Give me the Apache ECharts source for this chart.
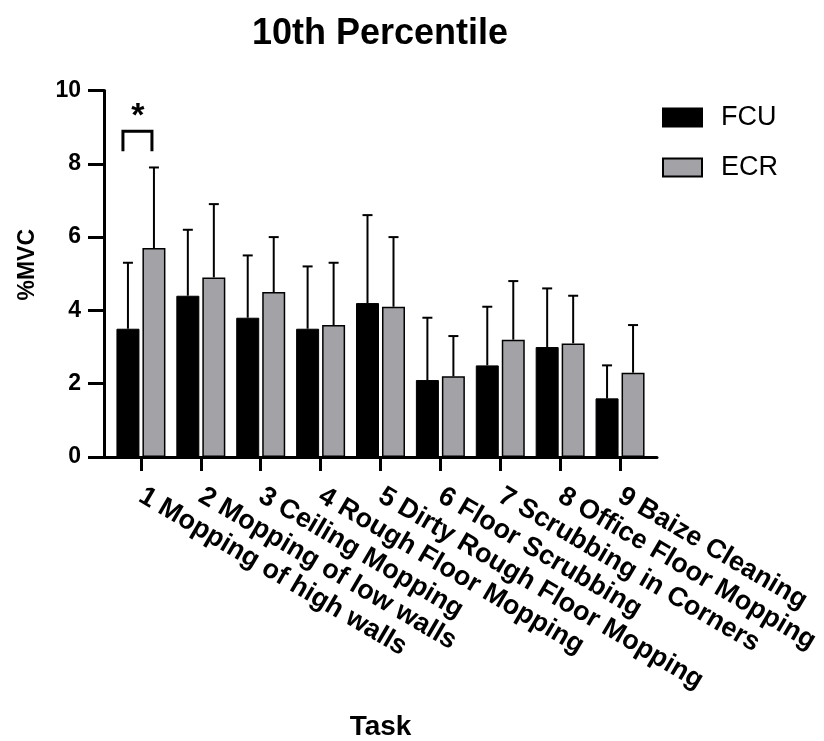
<!DOCTYPE html>
<html>
<head>
<meta charset="utf-8">
<script src="https://cdn.jsdelivr.net/npm/echarts@6/dist/echarts.min.js"></script>
<style>html,body{margin:0;padding:0;background:#fff}#c{width:824px;height:741px}</style>
</head>
<body>
<div id="c"></div>
<script>
var categories = ['1 Mopping of high walls','2 Mopping of low walls','3 Ceiling Mopping','4 Rough Floor Mopping','5 Dirty Rough Floor Mopping','6 Floor Scrubbing','7 Scrubbing in Corners','8 Office Floor Mopping','9 Baize Cleaning'];
var fcuMean = [3.5, 4.4, 3.8, 3.5, 4.2, 2.1, 2.5, 3.0, 1.6];
var fcuSD   = [1.8, 1.8, 1.7, 1.7, 2.4, 1.7, 1.6, 1.6, 0.9];
var ecrMean = [5.7, 4.9, 4.5, 3.6, 4.1, 2.2, 3.2, 3.1, 2.3];
var ecrSD   = [2.2, 2.0, 1.5, 1.7, 1.9, 1.1, 1.6, 1.3, 1.3];
var yTicks  = [0, 2, 4, 6, 8, 10];
// significance annotation: [category index, bracket top, bracket leg bottom, star level]
var sigMarks = [[0, 8.89, 8.34, 9.45]];

var FONT = 'Liberation Sans, Arial, Helvetica, sans-serif';
var BAR_W = 23, OFFSET = 13;

function errItem(off) {
  return function (params, api) {
    var i = api.value(0);
    var top = api.coord([i, api.value(1) + api.value(2)]);
    var base = api.coord([i, api.value(1)]);
    var x = base[0] + off;
    return {
      type: 'group',
      children: [
        {type: 'line', shape: {x1: x, y1: base[1], x2: x, y2: top[1]}, style: {stroke: '#000', lineWidth: 2}},
        {type: 'line', shape: {x1: x - 5, y1: top[1], x2: x + 5, y2: top[1]}, style: {stroke: '#000', lineWidth: 2}}
      ]
    };
  };
}

var chart = echarts.init(document.getElementById('c'), null, {renderer: 'canvas'});
var option = {
  animation: false,
  backgroundColor: '#fff',
  title: {
    text: '10th Percentile', left: 252, top: 16, padding: 0,
    textStyle: {fontFamily: FONT, fontSize: 36, fontWeight: 'bold', color: '#000'}
  },
  legend: {
    orient: 'vertical', left: 662, top: 104, padding: 0, itemWidth: 39, itemHeight: 18, itemGap: 23,
    icon: 'rect',
    data: ['FCU', 'ECR'],
    textStyle: {fontFamily: FONT, fontSize: 27, color: '#000', padding: [0, 0, 0, 14]}
  },
  grid: [
    {left: 104, right: 167, top: 90.5, bottom: 284, containLabel: false, outerBoundsMode: 'none'},
    {left: 111, right: 174, top: 90.5, bottom: 284, containLabel: false, outerBoundsMode: 'none'}
  ],
  xAxis: [
    {gridIndex: 0, type: 'value', min: 0, max: 1, axisLine: {show: true, onZero: false, lineStyle: {color: '#000', width: 3}},
     axisTick: {show: false}, axisLabel: {show: false}, splitLine: {show: false}},
    {gridIndex: 1, type: 'category', data: categories, boundaryGap: true,
     axisLine: {show: false}, axisTick: {show: true, alignWithLabel: true, length: 14, lineStyle: {color: '#000', width: 3}},
     axisLabel: {rotate: -30.5, margin: 37, interval: 0, fontFamily: FONT, fontSize: 27, fontWeight: 'bold', color: '#000'},
     name: 'Task', nameLocation: 'middle', nameGap: 256,
     nameTextStyle: {fontFamily: FONT, fontSize: 28, fontWeight: 'bold', color: '#000'}}
  ],
  yAxis: [
    {gridIndex: 0, type: 'value', min: 0, max: 10, interval: 2,
     axisLine: {show: true, onZero: false, lineStyle: {color: '#000', width: 3}},
     axisTick: {show: true, length: 16, lineStyle: {color: '#000', width: 3}},
     axisLabel: {margin: 23, fontFamily: FONT, fontSize: 23, fontWeight: 'bold', color: '#000',
       formatter: function (v) { return yTicks.indexOf(v) >= 0 ? String(v) : ''; }},
     splitLine: {show: false},
     name: '%MVC', nameLocation: 'middle', nameRotate: 90, nameGap: 65,
     nameTextStyle: {fontFamily: FONT, fontSize: 23, fontWeight: 'bold', color: '#000', padding: [0, 0, 0, 18]}},
    {gridIndex: 1, type: 'value', min: 0, max: 10, interval: 2, show: false}
  ],
  series: [
    {name: 'FCU', type: 'bar', xAxisIndex: 1, yAxisIndex: 1, data: fcuMean, barWidth: BAR_W, barGap: '13%',
     itemStyle: {color: '#000', borderColor: '#000', borderWidth: 1}},
    {name: 'ECR', type: 'bar', xAxisIndex: 1, yAxisIndex: 1, data: ecrMean, barWidth: BAR_W, barGap: '13%',
     itemStyle: {color: '#a3a3a7', borderColor: '#000', borderWidth: 1.5}},
    {type: 'custom', xAxisIndex: 1, yAxisIndex: 1, renderItem: errItem(-OFFSET), z: 1,
     data: fcuMean.map(function (m, i) { return [i, m, fcuSD[i]]; })},
    {type: 'custom', xAxisIndex: 1, yAxisIndex: 1, renderItem: errItem(OFFSET), z: 1,
     data: ecrMean.map(function (m, i) { return [i, m, ecrSD[i]]; })},
    {type: 'custom', xAxisIndex: 1, yAxisIndex: 1, z: 5,
     data: sigMarks,
     renderItem: function (params, api) {
       var i = api.value(0);
       var t = api.coord([i, api.value(1)]);
       var b = api.coord([i, api.value(2)]);
       var s = api.coord([i, api.value(3)]);
       var x1 = t[0] - 18, x2 = t[0] + 11;
       return {
         type: 'group',
         children: [
           {type: 'polyline', shape: {points: [[x1, b[1]], [x1, t[1]], [x2, t[1]], [x2, b[1]]]},
            style: {stroke: '#000', lineWidth: 3, fill: null}},
           {type: 'text', x: t[0] - 3, y: s[1] + 6,
            style: {text: '*', fontFamily: FONT, fontSize: 34, fontWeight: 'bold', fill: '#000', align: 'center', verticalAlign: 'middle'}}
         ]
       };
     }}
  ]
};
chart.setOption(option);
</script>
</body>
</html>
